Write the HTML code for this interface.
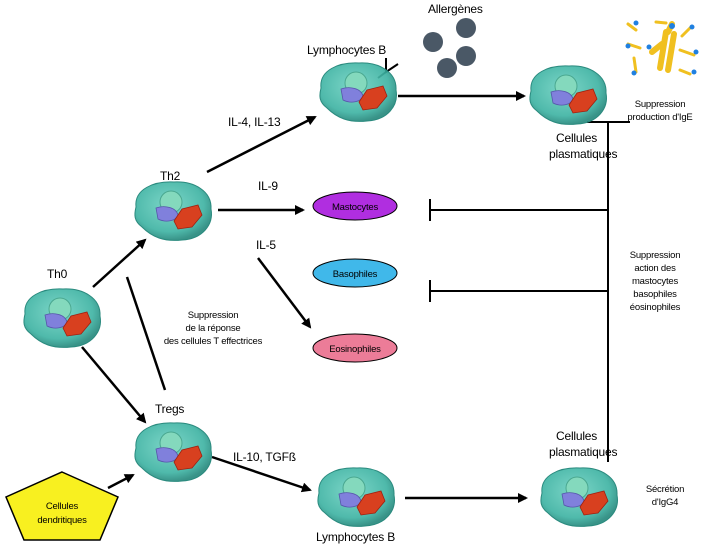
<!DOCTYPE html>
<html><head><meta charset="utf-8"><style>
body{margin:0;background:#fff;width:714px;height:548px;overflow:hidden}
svg text{font-family:"Liberation Sans",sans-serif;fill:#000}
</style></head><body>
<svg width="714" height="548" viewBox="0 0 714 548" xmlns="http://www.w3.org/2000/svg">
<defs>
<marker id="a" markerWidth="10" markerHeight="10" refX="8" refY="5" orient="auto" markerUnits="userSpaceOnUse"><path d="M0,0 L10,5 L0,10 Z" fill="#000"/></marker>
<radialGradient id="cg" cx="0.45" cy="0.4" r="0.6"><stop offset="0" stop-color="#6fd2c2"/><stop offset="0.75" stop-color="#3cb2a2"/><stop offset="1" stop-color="#23877b"/></radialGradient>
<g id="cell">
<path d="M-36,-4 C-38,-22 -18,-30 2,-29 C22,-30 40,-20 39,-2 C42,14 30,28 10,29 C-8,31 -20,26 -30,16 C-38,10 -38,4 -36,-4Z" fill="url(#cg)" fill-opacity="0.9" stroke="#2a8a7e" stroke-width="1"/>
<circle cx="-1" cy="-9" r="11" fill="#84d9bd" stroke="#4aa890"/>
<path d="M-16,-3 C-8,-6 4,-4 6,4 C4,10 -6,12 -14,8 Z" fill="#8080dc" stroke="#5656aa" stroke-width="0.8"/>
<path d="M2,10 L10,-2 L26,-6 L30,4 L20,16 L6,18 Z" fill="#d8401f" stroke="#a02010" stroke-width="0.8"/>
</g>
</defs>
<g stroke="#000" stroke-width="2.5" fill="none">
<line x1="93" y1="287" x2="145" y2="240" marker-end="url(#a)"/>
<line x1="82" y1="347" x2="145" y2="422" marker-end="url(#a)"/>
<line x1="127" y1="277" x2="165" y2="390"/>
<line x1="108" y1="488" x2="133" y2="475" marker-end="url(#a)"/>
<line x1="207" y1="172" x2="315" y2="117" marker-end="url(#a)"/>
<line x1="218" y1="210" x2="303" y2="210" marker-end="url(#a)"/>
<line x1="258" y1="258" x2="310" y2="327" marker-end="url(#a)"/>
<line x1="398" y1="96" x2="524" y2="96" marker-end="url(#a)"/>
<line x1="212" y1="457" x2="310" y2="490" marker-end="url(#a)"/>
<line x1="405" y1="498" x2="526" y2="498" marker-end="url(#a)"/>
<line x1="608" y1="122" x2="608" y2="462" stroke-width="2"/>
<line x1="587" y1="122" x2="630" y2="122" stroke-width="2"/>
<line x1="430" y1="210" x2="608" y2="210" stroke-width="2"/>
<line x1="430" y1="199" x2="430" y2="221" stroke-width="2"/>
<line x1="430" y1="291" x2="608" y2="291" stroke-width="2"/>
<line x1="430" y1="280" x2="430" y2="302" stroke-width="2"/>
<path d="M386,72 L398,64 M386,72 L386,58 M386,72 L378,78" stroke-width="2"/>
</g>
<use href="#cell" x="61" y="318"/>
<use href="#cell" x="172" y="211"/>
<use href="#cell" x="172" y="452"/>
<use href="#cell" x="357" y="92"/>
<use href="#cell" x="567" y="95"/>
<use href="#cell" x="355" y="497"/>
<use href="#cell" x="578" y="497"/>
<g fill="#4a5866"><circle cx="433" cy="42" r="10"/><circle cx="466" cy="28" r="10"/><circle cx="466" cy="56" r="10"/><circle cx="447" cy="68" r="10"/></g>
<g stroke="#f0c020" stroke-width="6" stroke-linecap="round">
<line x1="666" y1="32" x2="660" y2="68"/><line x1="674" y1="34" x2="668" y2="70"/><line x1="662" y1="44" x2="652" y2="52"/><line x1="668" y1="32" x2="672" y2="24"/>
<line x1="628" y1="24" x2="636" y2="30" stroke-width="3"/><line x1="628" y1="44" x2="640" y2="48" stroke-width="3"/><line x1="634" y1="58" x2="636" y2="72" stroke-width="3"/><line x1="690" y1="28" x2="682" y2="36" stroke-width="3"/><line x1="680" y1="50" x2="694" y2="55" stroke-width="3"/><line x1="656" y1="22" x2="666" y2="23" stroke-width="3"/><line x1="680" y1="70" x2="690" y2="74" stroke-width="3"/></g>
<g fill="#2080e0"><circle cx="636" cy="23" r="2.5"/><circle cx="628" cy="46" r="2.5"/><circle cx="634" cy="73" r="2.5"/><circle cx="672" cy="26" r="3"/><circle cx="692" cy="27" r="2.5"/><circle cx="696" cy="52" r="2.5"/><circle cx="694" cy="72" r="2.5"/><circle cx="649" cy="47" r="2.5"/></g>
<ellipse cx="355" cy="206" rx="42" ry="14" fill="#b02ee0" stroke="#000"/>
<ellipse cx="355" cy="273" rx="42" ry="14" fill="#40b8ea" stroke="#000"/>
<ellipse cx="355" cy="348" rx="42" ry="14" fill="#ec7c98" stroke="#000"/>
<polygon points="62,472 118,497 100,540 24,540 6,497" fill="#f8f020" stroke="#000" stroke-width="1.5"/>
<g font-size="12" letter-spacing="-0.2">
<text x="47" y="278">Th0</text>
<text x="160" y="180">Th2</text>
<text x="155" y="413">Tregs</text>
<text x="307" y="54">Lymphocytes B</text>
<text x="428" y="13">Allergènes</text>
<text x="228" y="126">IL-4, IL-13</text>
<text x="258" y="190">IL-9</text>
<text x="256" y="249">IL-5</text>
<text x="233" y="461">IL-10, TGFß</text>
<text x="316" y="541">Lymphocytes B</text>
<text x="556" y="142">Cellules</text>
<text x="549" y="158">plasmatiques</text>
<text x="556" y="440">Cellules</text>
<text x="549" y="456">plasmatiques</text>
</g>
<g font-size="9.5" text-anchor="middle" letter-spacing="-0.2">
<text x="355" y="210">Mastocytes</text>
<text x="355" y="277">Basophiles</text>
<text x="355" y="352">Eosinophiles</text>
<text x="62" y="509">Cellules</text>
<text x="62" y="523">dendritiques</text>
<text x="660" y="107">Suppression</text>
<text x="660" y="120">production d'IgE</text>
<text x="655" y="258">Suppression</text>
<text x="655" y="271">action des</text>
<text x="655" y="284">mastocytes</text>
<text x="655" y="297">basophiles</text>
<text x="655" y="310">éosinophiles</text>
<text x="213" y="318">Suppression</text>
<text x="213" y="331">de la réponse</text>
<text x="213" y="344">des cellules T effectrices</text>
<text x="665" y="492">Sécrétion</text>
<text x="665" y="505">d'IgG4</text>
</g>
</svg>
</body></html>
